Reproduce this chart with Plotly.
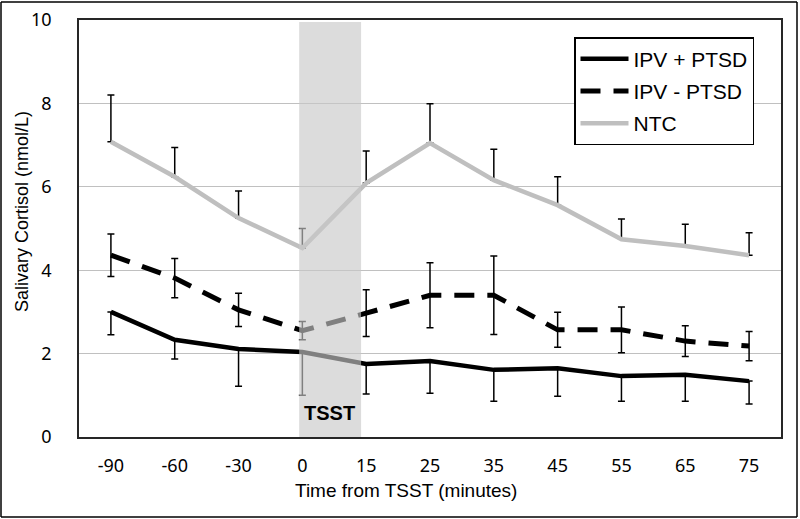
import plotly.graph_objects as go

# Salivary cortisol response to the TSST, by group
time_labels = ["-90", "-60", "-30", "0", "15", "25", "35", "45", "55", "65", "75"]

ipv_ptsd = [3.00, 2.33, 2.11, 2.04, 1.75, 1.82, 1.61, 1.65, 1.46, 1.49, 1.34]
ipv_ptsd_err_down = [0.55, 0.46, 0.89, 1.04, 0.72, 0.77, 0.75, 0.67, 0.60, 0.63, 0.55]

ipv_noptsd = [4.36, 3.81, 3.05, 2.55, 2.97, 3.40, 3.40, 2.57, 2.57, 2.30, 2.18]
ipv_noptsd_err = [0.51, 0.47, 0.40, 0.22, 0.56, 0.78, 0.94, 0.42, 0.55, 0.37, 0.35]

ntc = [7.08, 6.24, 5.25, 4.53, 6.09, 7.05, 6.16, 5.56, 4.74, 4.58, 4.36]
ntc_err_up = [1.12, 0.70, 0.65, 0.47, 0.77, 0.94, 0.74, 0.68, 0.49, 0.52, 0.54]

FONT = "Liberation Sans, Arial, sans-serif"
TICKFONT = "Noto Sans, sans-serif"

# plot area in pixels (800 x 519 page)
L, R, T, B = 79, 781, 20, 437
W, H = R - L, B - T


def px_x(x):
    return (x - L) / W


def px_y(y):
    return (B - y) / H


fig = go.Figure()

fig.add_trace(go.Scatter(
    x=time_labels, y=ipv_ptsd, name="IPV + PTSD", mode="lines",
    line=dict(color="black", width=4.5),
    error_y=dict(type="data", symmetric=False, array=[0] * len(ipv_ptsd),
                 arrayminus=ipv_ptsd_err_down, color="black", thickness=1.5, width=3.5),
    legendgroup="a",
))
fig.add_trace(go.Scatter(
    x=time_labels, y=ipv_noptsd, name="IPV - PTSD", mode="lines",
    line=dict(color="black", width=5, dash="20px,13px"),
    error_y=dict(type="data", array=ipv_noptsd_err, color="black", thickness=1.5, width=3.5),
    legendgroup="b",
))
fig.add_trace(go.Scatter(
    x=time_labels, y=ntc, name="NTC", mode="lines",
    line=dict(color="#bfbfbf", width=4.5),
    error_y=dict(type="data", symmetric=False, array=ntc_err_up,
                 arrayminus=[0] * len(ntc), color="black", thickness=1.5, width=3.5),
    legendgroup="c",
))

frame = dict(color="black", width=1.5)
shapes = [
    # TSST window, drawn over the lines like the original
    dict(type="rect", xref="x", yref="y", x0=2.95, x1=3.92, y0=0, y1=9.95,
         fillcolor="#c8c8c8", opacity=0.64, line=dict(width=0), layer="above"),
    # outer frame of the picture, one edge at a time
    dict(type="line", xref="paper", yref="paper", x0=px_x(1), x1=px_x(797),
         y0=px_y(2), y1=px_y(2), line=frame),
    dict(type="line", xref="paper", yref="paper", x0=px_x(1), x1=px_x(797),
         y0=px_y(517), y1=px_y(517), line=frame),
    dict(type="line", xref="paper", yref="paper", x0=px_x(1), x1=px_x(1),
         y0=px_y(2), y1=px_y(517), line=frame),
    dict(type="line", xref="paper", yref="paper", x0=px_x(797), x1=px_x(797),
         y0=px_y(2), y1=px_y(517), line=frame),
]

annotations = [
    dict(text="<b>TSST</b>", x=3.43, y=0.58, xref="x", yref="y", showarrow=False,
         xanchor="center", yanchor="middle",
         font=dict(family=FONT, size=20, color="black")),
    dict(text="Time from TSST (minutes)", x=px_x(406), y=px_y(490), xref="paper",
         yref="paper", showarrow=False, xanchor="center", yanchor="middle",
         font=dict(family=FONT, size=19, color="black")),
    dict(text="Salivary Cortisol (nmol/L)", x=px_x(22), y=px_y(212), xref="paper",
         yref="paper", showarrow=False, textangle=-90, xanchor="center", yanchor="middle",
         font=dict(family=FONT, size=18, color="black")),
]

fig.update_layout(
    width=800, height=519,
    margin=dict(l=L, r=800 - R, t=T, b=519 - B),
    paper_bgcolor="white", plot_bgcolor="white",
    shapes=shapes, annotations=annotations,
    legend=dict(
        x=px_x(574), y=px_y(37), xanchor="left", yanchor="top",
        bgcolor="white", bordercolor="black", borderwidth=1.5,
        font=dict(family=FONT, size=21, color="black"),
        tracegroupgap=2, itemwidth=48,
    ),
    xaxis=dict(
        type="category", range=[-0.5, 10.5], automargin=False,
        showgrid=False, showline=True, linecolor="#262626", linewidth=1.5, mirror=True,
        tickfont=dict(family=TICKFONT, size=18, color="black"),
        ticks="", ticklabelstandoff=12,
    ),
    yaxis=dict(
        range=[0, 10], dtick=2, tickformat="d", automargin=False,
        showgrid=True, gridcolor="#c0c0c0", gridwidth=1,
        showline=True, linecolor="#262626", linewidth=1.5, mirror=True,
        zeroline=False,
        tickfont=dict(family=TICKFONT, size=18, color="black"),
        ticks="", ticklabelstandoff=22,
    ),
)

# the page body has a default 8px margin; drop it so the figure sits at 0,0
fig.write_html("out.html", config={"displayModeBar": False},
               post_script="document.body.style.margin='0';")
